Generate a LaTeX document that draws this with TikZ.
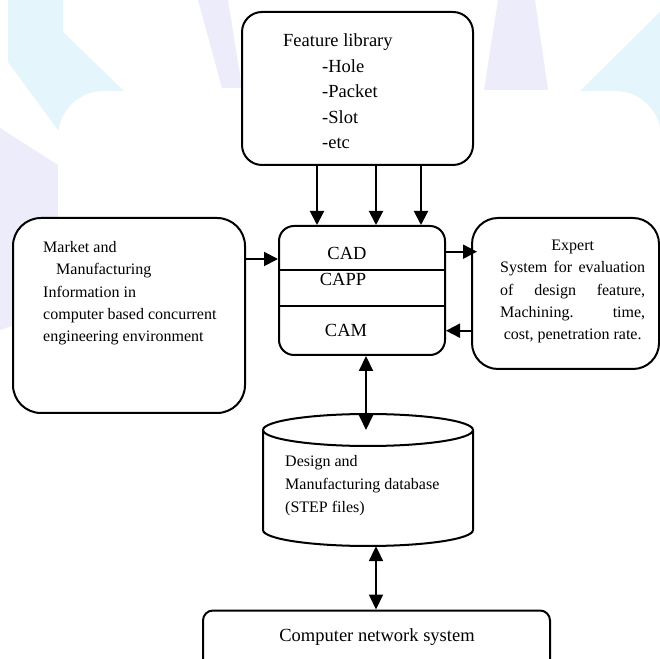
\documentclass[tikz,border=0pt]{standalone}
\usepackage{fontspec}
\setmainfont{Liberation Serif}
\usetikzlibrary{arrows.meta}
\definecolor{wmblue}{RGB}{214,240,251}
\definecolor{wmlav}{RGB}{226,226,250}
\begin{document}
\begin{tikzpicture}[x=1pt,y=1pt,
  box/.style={draw, fill=white, line width=2pt, rounded corners=#1, inner sep=0pt},
  box/.default=15pt,
  div/.style={line width=1.8pt},
  bigfont/.style={font=\fontsize{18.5}{25.5}\selectfont, inner sep=0pt},
  smallfont/.style={font=\fontsize{16}{22.2}\selectfont, inner sep=0pt},
  arr/.style={line width=2pt, -{Triangle[length=14pt,width=14pt]}},
  darr/.style={line width=2pt, {Triangle[length=15pt,width=14pt]}-{Triangle[length=15pt,width=14pt]}}
]
\clip (0,0) rectangle (660,658);
\fill[white] (0,0) rectangle (660,658);
% faint watermark
\begin{scope}[opacity=0.65]
\fill[wmblue] (8,658) -- (63,658) -- (63,626) -- (125,566) -- (58,528) -- (8,596) -- cycle;
\fill[wmlav] (0,530) -- (58,493) -- (58,348) -- (0,328) -- cycle;
\fill[wmlav] (198,658) -- (228,658) -- (242,570) -- (222,570) -- cycle;
\fill[wmlav] (498,658) -- (535,658) -- (548,568) -- (484,568) -- cycle;
\fill[wmblue] (580,567) -- (660,646) -- (660,518) -- (600,567) -- cycle;
\end{scope}
\fill[white, rounded corners=46pt] (58,-80) rectangle (661,567);

% boxes
\node[box=20pt, minimum width=231pt, minimum height=153pt] (feat) at (357.5,569.5) {};
\node[box=15pt, minimum width=166pt, minimum height=129pt] (cent) at (362,367.5) {};
\node[box=28pt, minimum width=232pt, minimum height=195pt] (mkt) at (129,342.5) {};
\node[box=26pt, minimum width=187pt, minimum height=151pt] (exp) at (565.5,364.5) {};
\node[inner sep=0pt, minimum width=210pt, minimum height=132pt] (db) at (368,178) {};
\node[box=10pt, minimum width=347pt, minimum height=70pt] (net) at (376.5,12.5) {};
\coordinate (dbtop) at (368,228);

% cylinder outline
\draw[line width=2pt, fill=white] (263,228) -- (263,128) arc[start angle=180, end angle=360, x radius=105pt, y radius=16pt] -- (473,228);
\draw[line width=2pt] (dbtop) ellipse [x radius=105pt, y radius=16pt];

% dividers in central box
\draw[div] ([yshift=20.5pt]cent.west) -- ([yshift=20.5pt]cent.east);
\draw[div] ([yshift=-15.5pt]cent.west) -- ([yshift=-15.5pt]cent.east);

% texts
\node[bigfont, anchor=base west] (feattxt) at (283,611.3) {\begin{tabular}[t]{@{}l@{}}Feature library\\\hspace*{39pt}-Hole\\\hspace*{39pt}-Packet\\\hspace*{39pt}-Slot\\\hspace*{39pt}-etc\end{tabular}};
\node[bigfont, anchor=base] (cad) at (347,398) {CAD};
\node[bigfont, anchor=base] (capp) at (343,372) {CAPP};
\node[bigfont, anchor=base] (cam) at (346,321.3) {CAM};
\node[smallfont, anchor=base west] (mkttxt) at (43,405.3) {\begin{tabular}[t]{@{}l@{}}Market and\\\hspace*{13pt}Manufacturing\\Information in\\computer based concurrent\\engineering environment\end{tabular}};
\node[smallfont, anchor=base west] (exptxt) at (500,407.3) {\begin{tabular}[t]{@{}c@{}}Expert\\\makebox[145pt][s]{System for evaluation}\\\makebox[145pt][s]{of design feature,}\\\makebox[145pt][s]{Machining. time,}\\cost, penetration rate.\end{tabular}};
\node[font=\fontsize{16}{23}\selectfont, inner sep=0pt, anchor=base west] (dbtxt) at (285,191.3) {\begin{tabular}[t]{@{}l@{}}Design and\\Manufacturing database\\(STEP files)\end{tabular}};
\node[bigfont, anchor=base] (nettxt) at (377,16.3) {Computer network system};

% connectors
\draw[arr] ([xshift=-40.5pt]feat.south) -- ([xshift=-40.5pt]feat.south |- cent.north);
\draw[arr] ([xshift=18.5pt]feat.south) -- ([xshift=18.5pt]feat.south |- cent.north);
\draw[arr] ([xshift=63.5pt]feat.south) -- ([xshift=63.5pt]feat.south |- cent.north);
\draw[arr] ([yshift=56.5pt]mkt.east) -- ([yshift=56.5pt]mkt.east -| cent.west);
\draw[arr] ([yshift=38.8pt]cent.east) -- ([yshift=38.8pt,xshift=6pt]cent.east -| exp.west);
\draw[arr] ([yshift=-40.2pt]cent.east -| exp.west) -- ([yshift=-40.2pt]cent.east);
\draw[darr] ([xshift=4pt]cent.south) -- ([xshift=4pt]cent.south |- dbtop);
\draw[darr] ([xshift=8pt]db.south) -- ([xshift=8pt]db.south |- net.north);
\end{tikzpicture}
\end{document}
